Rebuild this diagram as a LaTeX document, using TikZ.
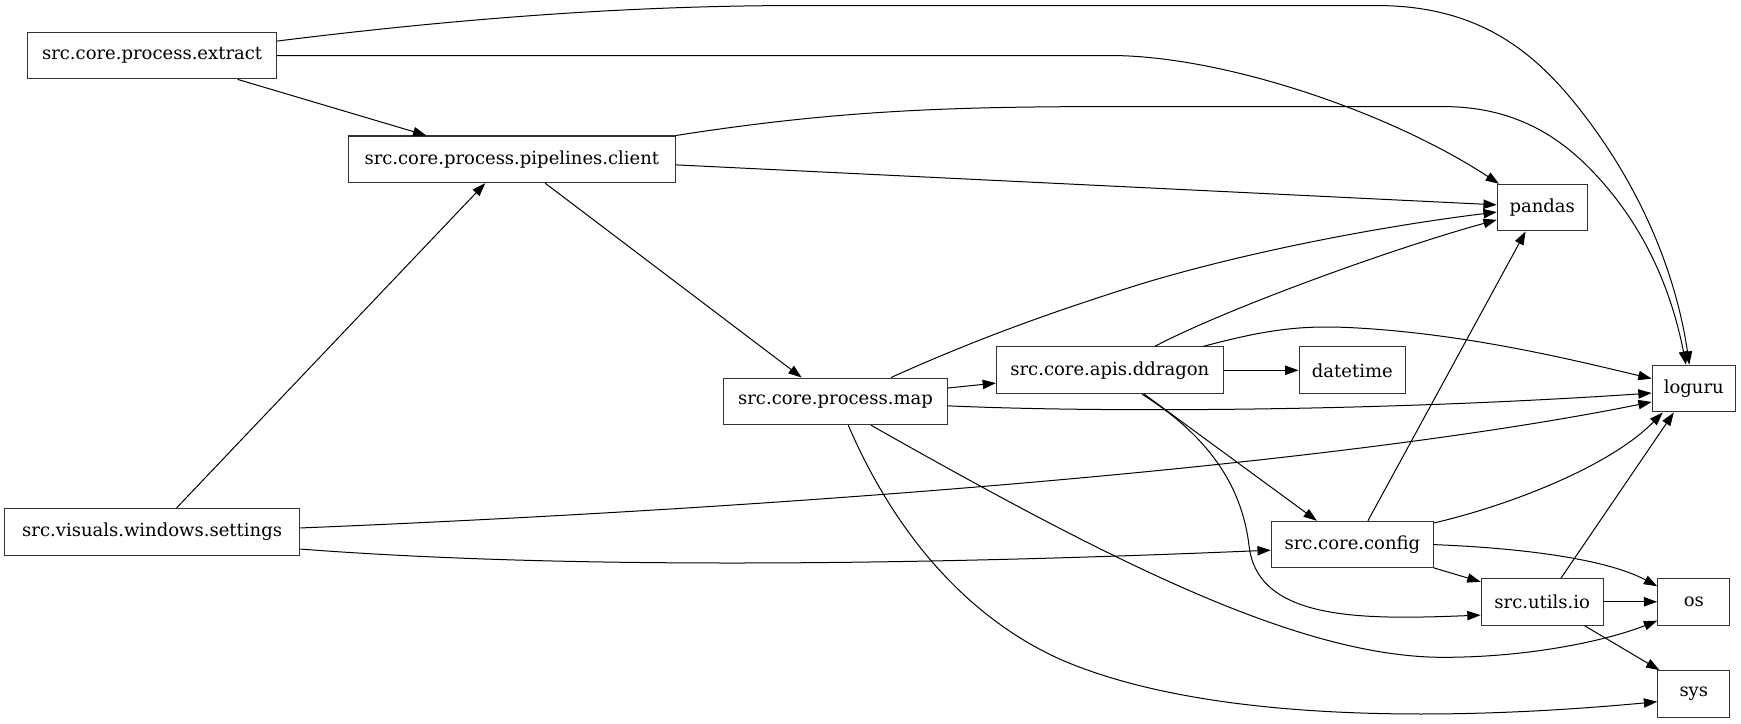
\documentclass[tikz,border=0pt]{standalone}
\usepackage{fontspec}
\setmainfont{DejaVu Serif}
\usetikzlibrary{arrows.meta}
\begin{document}
\begin{tikzpicture}[x=0.8327pt,y=-0.8327pt,
  mod/.style={draw=black!80,line width=0.8pt,rectangle,minimum height=35pt,inner sep=0pt,font=\fontsize{13.5}{16}\selectfont},
  dep/.style={draw=black,line width=0.75pt,-{Triangle[length=10pt,width=7pt]}}]
\useasboundingbox (0,0) rectangle (1568,652);
\node[mod,minimum width=224*0.8327pt] (extract) at (137,50) {src.core.process.extract};
\node[mod,minimum width=295*0.8327pt] (client) at (461,143.5) {src.core.process.pipelines.client};
\node[mod,minimum width=81*0.8327pt] (pandas) at (1389,187) {pandas};
\node[mod,minimum width=204*0.8327pt] (ddragon) at (999.5,333.5) {src.core.apis.ddragon};
\node[mod,minimum width=96*0.8327pt] (datetime) at (1218,333.5) {datetime};
\node[mod,minimum width=201*0.8327pt] (map) at (752.5,361.5) {src.core.process.map};
\node[mod,minimum width=75*0.8327pt] (loguru) at (1525.5,350) {loguru};
\node[mod,minimum width=266*0.8327pt] (settings) at (137,479) {src.visuals.windows.settings};
\node[mod,minimum width=146*0.8327pt] (config) at (1218,490.5) {src.core.config};
\node[mod,minimum width=110*0.8327pt] (utils) at (1389,542) {src.utils.io};
\node[mod,minimum width=65*0.8327pt] (os) at (1525.5,542) {os};
\node[mod,minimum width=65*0.8327pt] (sys) at (1525.5,625) {sys};

% extract
\draw[dep] ([shift={(0,-13)}]extract.east) .. controls (450,12) and (600,5) .. (720,5) -- (1240,5)
  .. controls (1330,5) and (1380,45) .. (1420,95) .. controls (1480,170) and (1510,250) .. ([shift={(-4,0)}]loguru.north);
\draw[dep] (extract.east) -- (1000,50) .. controls (1100,50) and (1250,100) .. ([shift={(2,0)}]pandas.north west);
\draw[dep] ([shift={(77,0)}]extract.south) -- ([shift={(-77,0)}]client.north);
% client
\draw[dep] (client.north east) .. controls (750,100) and (850,96) .. (1000,96) -- (1300,96)
  .. controls (1360,96) and (1400,120) .. (1430,150) .. controls (1480,200) and (1505,260) .. ([shift={(-7,0)}]loguru.north);
\draw[dep] ([shift={(0,5)}]client.east) -- ([shift={(0,-2.5)}]pandas.west);
\draw[dep] ([shift={(30,0)}]client.south) -- ([shift={(-30.5,0)}]map.north);
% settings
\draw[dep] ([shift={(22,0)}]settings.north) -- ([shift={(-24,0)}]client.south);
\draw[dep] ([shift={(0,-3.5)}]settings.east) .. controls (700,458) and (1200,420) .. ([shift={(0,12)}]loguru.west);
\draw[dep] ([shift={(0,15.5)}]settings.east) .. controls (500,512) and (800,510) .. ([shift={(0,5)}]config.west);
% map
\draw[dep] ([shift={(50,0)}]map.north) .. controls (880,305) and (950,280) .. (1030,255)
  .. controls (1130,225) and (1250,203) .. ([shift={(0,4)}]pandas.west);
\draw[dep] ([shift={(0,-12)}]map.east) -- ([shift={(0,11.5)}]ddragon.west);
\draw[dep] ([shift={(0,4)}]map.east) .. controls (1000,372) and (1250,370) .. ([shift={(0,4)}]loguru.west);
\draw[dep] ([shift={(32,0)}]map.south) .. controls (1000,505) and (1170,592) .. (1300,592)
  .. controls (1380,592) and (1450,576) .. ([shift={(0,17)}]os.west);
\draw[dep] ([shift={(11.5,0)}]map.south) .. controls (810,490) and (880,562) .. (960,596)
  .. controls (1090,650) and (1300,650) .. ([shift={(0,7)}]sys.west);
% ddragon
\draw[dep] ([shift={(40.5,0)}]ddragon.north) .. controls (1100,280) and (1250,225) .. ([shift={(0,11)}]pandas.west);
\draw[dep] ([shift={(84,0)}]ddragon.north) .. controls (1140,297) and (1170,293) .. (1215,295)
  .. controls (1320,300) and (1420,325) .. ([shift={(0,-9)}]loguru.west);
\draw[dep] (ddragon.east) -- (datetime.west);
\draw[dep] ([shift={(31,0)}]ddragon.south) -- ([shift={(-32,0)}]config.north);
\draw[dep] ([shift={(29,0)}]ddragon.south) .. controls (1100,400) and (1120,450) .. (1125,492)
  .. controls (1133,560) and (1230,558) .. ([shift={(0,12)}]utils.west);
% config
\draw[dep] ([shift={(14,0)}]config.north) -- ([shift={(-15,0)}]pandas.south);
\draw[dep] ([shift={(0,-19.5)}]config.east) .. controls (1360,455) and (1450,420) .. ([shift={(-28,0)}]loguru.south);
\draw[dep] (config.east) .. controls (1380,494) and (1450,505) .. ([shift={(0,-14)}]os.west);
\draw[dep] ([shift={(0,-0.5)}]config.south east) -- ([shift={(0,-18)}]utils.west);
% utils
\draw[dep] ([shift={(17,0)}]utils.north) -- ([shift={(-18,0)}]loguru.south);
\draw[dep] (utils.east) -- (os.west);
\draw[dep] ([shift={(38,0)}]utils.south) -- ([shift={(2,0)}]sys.north west);
\end{tikzpicture}
\end{document}
